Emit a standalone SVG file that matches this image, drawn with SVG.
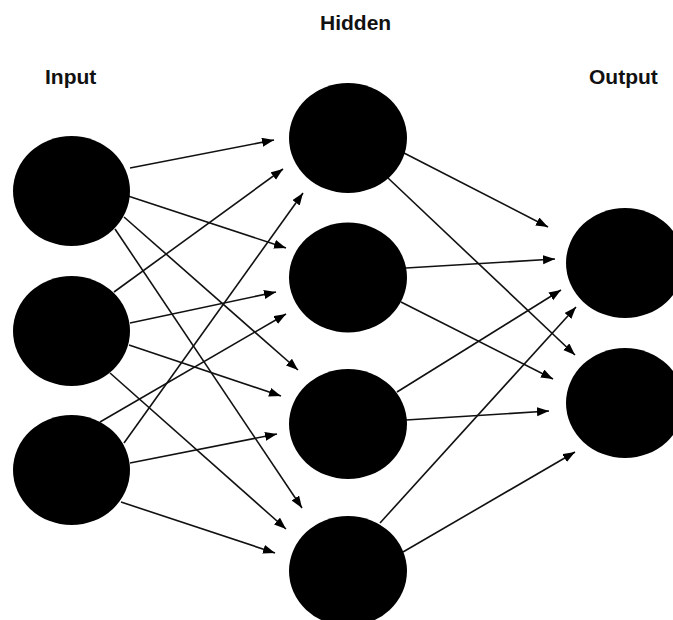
<svg xmlns="http://www.w3.org/2000/svg" width="673" height="620" viewBox="0 0 673 620">
<style>
.node{fill:#000}
.lbl{font-family:"Liberation Sans",Arial,sans-serif;font-weight:bold;font-size:21px;fill:#111}
.edge{stroke:#111;stroke-width:1.6;fill:none;marker-end:url(#arr)}
</style>
<defs>
<marker id="arr" markerUnits="userSpaceOnUse" markerWidth="13" markerHeight="10" refX="12" refY="4.5" orient="auto">
<path d="M0,0 L12,4.5 L0,9 z" fill="#000"/>
</marker>
</defs>
<rect width="673" height="620" fill="#fff"/>
<text class="lbl" x="45" y="84">Input</text>
<text class="lbl" x="320" y="30">Hidden</text>
<text class="lbl" x="589" y="84">Output</text>
<g id="connectors">
<line class="edge" x1="130" y1="168" x2="274" y2="140"/>
<line class="edge" x1="128" y1="196" x2="286" y2="248"/>
<line class="edge" x1="124" y1="217" x2="298" y2="370"/>
<line class="edge" x1="115" y1="229" x2="302" y2="508"/>
<line class="edge" x1="114" y1="292" x2="283" y2="169"/>
<line class="edge" x1="130" y1="323" x2="276" y2="292"/>
<line class="edge" x1="129" y1="345" x2="281" y2="396"/>
<line class="edge" x1="110" y1="373" x2="286" y2="529"/>
<line class="edge" x1="100" y1="422" x2="286" y2="314"/>
<line class="edge" x1="124" y1="443" x2="303" y2="193"/>
<line class="edge" x1="130" y1="463" x2="277" y2="434"/>
<line class="edge" x1="121" y1="502" x2="275" y2="553"/>
<line class="edge" x1="404" y1="153" x2="548" y2="227"/>
<line class="edge" x1="388" y1="178" x2="575" y2="355"/>
<line class="edge" x1="406" y1="268" x2="555" y2="259"/>
<line class="edge" x1="401" y1="302" x2="553" y2="379"/>
<line class="edge" x1="397" y1="392" x2="561" y2="290"/>
<line class="edge" x1="406" y1="420" x2="549" y2="411"/>
<line class="edge" x1="380" y1="523" x2="576" y2="307"/>
<line class="edge" x1="403" y1="552" x2="575" y2="452"/>
</g>
<g id="input1"><ellipse class="node" cx="71.5" cy="191" rx="58.5" ry="55"/></g>
<g id="input2"><ellipse class="node" cx="71.5" cy="331" rx="58.5" ry="55"/></g>
<g id="input3"><ellipse class="node" cx="71.5" cy="470" rx="58.5" ry="55"/></g>
<g id="hidden1"><ellipse class="node" cx="348" cy="138" rx="59" ry="55"/></g>
<g id="hidden2"><ellipse class="node" cx="348" cy="277.5" rx="59" ry="55"/></g>
<g id="hidden3"><ellipse class="node" cx="348" cy="424" rx="59" ry="55"/></g>
<g id="hidden4"><ellipse class="node" cx="348" cy="571" rx="59" ry="55"/></g>
<g id="output1"><ellipse class="node" cx="625" cy="263" rx="59" ry="55"/></g>
<g id="output2"><ellipse class="node" cx="625" cy="403" rx="59" ry="55"/></g>
</svg>
